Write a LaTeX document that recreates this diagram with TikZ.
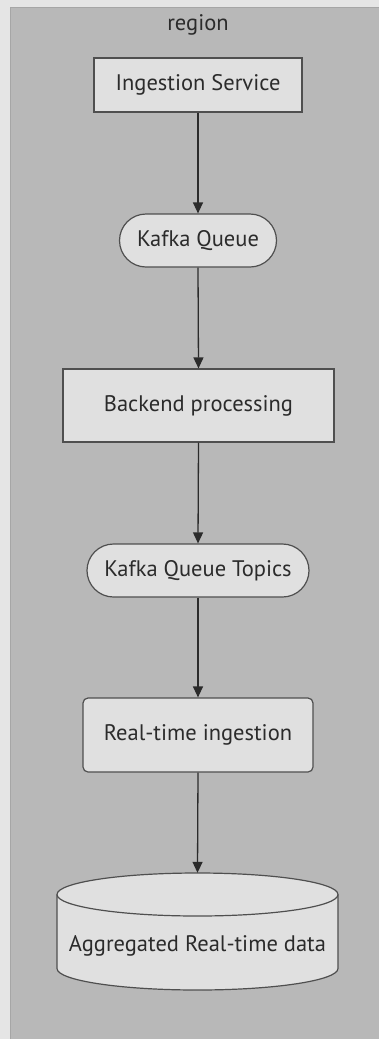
\documentclass[tikz,border=0pt]{standalone}
\usepackage{fontspec}
\setmainfont{PT Sans}
\usepackage{xcolor}
\usetikzlibrary{arrows.meta}

\definecolor{pagebg}{HTML}{E5E5E5}
\definecolor{regionbg}{HTML}{B8B8B8}
\definecolor{regionline}{HTML}{A6A6A6}
\definecolor{nodebg}{HTML}{E0E0E0}
\definecolor{nodeline}{HTML}{4F4F4F}
\definecolor{inkgray}{HTML}{2B2B2B}

\begin{document}
\begin{tikzpicture}[x=1pt,y=-1pt,
  every node/.style={font=\fontsize{22.5}{27}\selectfont, text=inkgray},
  procbox/.style={shape=rectangle, draw=nodeline, fill=nodebg, line width=1.2pt, inner sep=0pt},
  pillbox/.style={procbox, rounded corners=26.5pt},
  flowline/.style={-{Triangle[length=11pt,width=10pt]}, line width=1.3pt, draw=inkgray}]

%% background and region
\fill[pagebg] (0,0) rectangle (379,1039);
\useasboundingbox (0,0) rectangle (379,1039);
\path[fill=regionbg, draw=regionline, line width=1pt] (10,7) rectangle (390,1050);
\node[] (regionlabel) at (198,25) {region};

%% nodes

\node[procbox, minimum width=208pt, minimum height=54pt] (ingest) at (198,85) {Ingestion Service};
\node[pillbox, minimum width=157pt, minimum height=53pt] (kafka) at (198,240.5) {Kafka Queue};
\node[procbox, minimum width=271pt, minimum height=73pt] (backend) at (198.5,405.5) {Backend processing};
\node[pillbox, minimum width=222pt, minimum height=53pt] (topics) at (198,570.5) {Kafka Queue Topics};
\node[procbox, rounded corners=5pt, minimum width=230pt, minimum height=74pt] (realtime) at (198,735) {Real-time ingestion};

%% cylinder (drawn round an empty node)
\node[inner sep=0pt, minimum width=281pt, minimum height=117pt] (aggdata) at (197.5,931.5) {};
\path[fill=nodebg, draw=nodeline, line width=1.2pt]
  (57,894.5) -- (57,968.5) arc[start angle=180, end angle=360, x radius=140.5pt, y radius=21.5pt]
  -- (338,894.5) arc[start angle=0, end angle=180, x radius=140.5pt, y radius=21.5pt] -- cycle;
\path[draw=nodeline, line width=1.2pt]
  (57,894.5) arc[start angle=180, end angle=360, x radius=140.5pt, y radius=21.5pt];
\node[] (agglabel) at (197.5,946) {Aggregated Real-time data};

%% lines
\draw[flowline] (ingest.south) -- (kafka.north);
\draw[flowline] (kafka.south) -- (backend.north);
\draw[flowline] (backend.south) -- (topics.north);
\draw[flowline] (topics.south) -- (realtime.north);
\draw[flowline] (realtime.south) -- (aggdata.north);

\end{tikzpicture}
\end{document}
